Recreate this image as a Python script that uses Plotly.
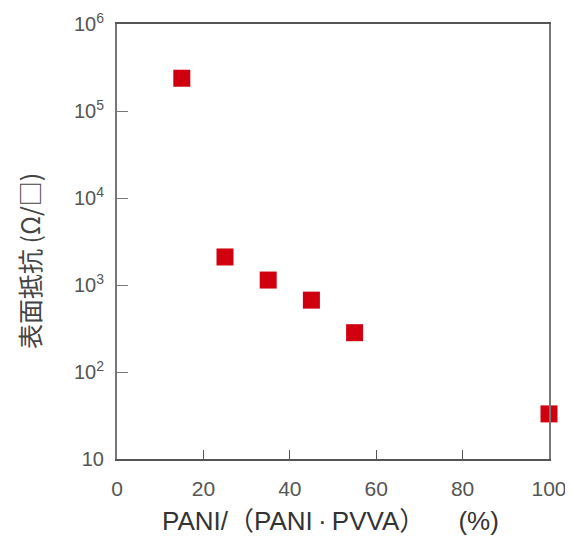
import plotly.graph_objects as go

pani_ratio = [15, 25, 35, 45, 55, 100]
surface_resistance = [2.38e5, 2100, 1140, 670, 283, 33]

y_tick_vals = [10, 100, 1000, 10000, 100000, 1000000]
y_tick_text = ["10", "10<sup>2</sup>", "10<sup>3</sup>", "10<sup>4</sup>", "10<sup>5</sup>", "10<sup>6</sup>"]
x_tick_vals = [0, 20, 40, 60, 80, 100]
x_title = "PANI/（PANI\u2009·\u2009PVVA）\u3000\u2002 (%)"
y_title = "表面抵抗 (Ω/□)"

fig = go.Figure()
fig.add_trace(go.Scatter(
    x=pani_ratio, y=surface_resistance, mode="markers",
    marker=dict(symbol="square", size=17, color="#d0000f", line=dict(width=0)),
    showlegend=False, cliponaxis=False,
))

fig.update_layout(
    width=573, height=536,
    margin=dict(l=109, r=32, t=16, b=85, autoexpand=False),
    paper_bgcolor="white", plot_bgcolor="white",
    font=dict(family="Liberation Sans, Arial, Noto Sans CJK JP", color="#555555", size=20),
    xaxis=dict(
        range=[0, 100], tickvals=x_tick_vals, ticks="inside", ticklen=9, tickwidth=1,
        tickcolor="#555555", showline=True, linecolor="#555555", linewidth=2, mirror=True,
        showgrid=False, zeroline=False, automargin=False, ticklabelstandoff=10,
        tickfont=dict(size=21),
    ),
    yaxis=dict(
        type="log", range=[1, 6], tickvals=y_tick_vals, ticktext=y_tick_text,
        ticks="inside", ticklen=11, tickwidth=1, tickcolor="#777777",
        showline=True, linecolor="#777777", linewidth=2, mirror=True,
        showgrid=False, zeroline=False, automargin=False, ticklabelstandoff=7,
    ),
    annotations=[
        dict(text=x_title, xref="paper", yref="paper", x=0.495, y=-0.1425,
             xanchor="center", yanchor="middle", showarrow=False,
             font=dict(size=26, color="#333333", family="Liberation Sans, Noto Sans CJK JP")),
        dict(text=y_title, xref="paper", yref="paper", x=-0.2037, y=0.455,
             xanchor="center", yanchor="middle", showarrow=False, textangle=-90,
             font=dict(size=25, color="#444444", family="Noto Sans CJK JP")),
    ],
    shapes=[dict(type="line", xref="paper", yref="paper", x0=1.0417, x1=1.0417, y0=-0.25, y1=1.06,
                 line=dict(color="#bbbbbb", width=2))],
)

fig.write_html("out.html")
